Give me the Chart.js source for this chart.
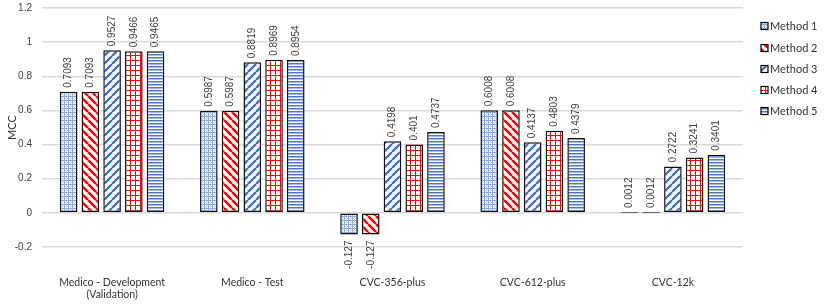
<!DOCTYPE html>
<html><head><meta charset="utf-8">
<script src="https://cdn.jsdelivr.net/npm/chart.js@4.4.0/dist/chart.umd.min.js"></script>
<style>html,body{margin:0;padding:0;background:#fff}#wrap{width:830px;height:305px}</style>
</head><body><div id="wrap"><canvas id="c" width="830" height="305"></canvas></div>
<script>
const categories = [["Medico - Development", "(Validation)"], "Medico - Test", "CVC-356-plus", "CVC-612-plus", "CVC-12k"];
const seriesNames = ["Method 1", "Method 2", "Method 3", "Method 4", "Method 5"];
const method1 = [0.7093, 0.5987, -0.127, 0.6008, 0.0012];
const method2 = [0.7093, 0.5987, -0.127, 0.6008, 0.0012];
const method3 = [0.9527, 0.8819, 0.4198, 0.4137, 0.2722];
const method4 = [0.9466, 0.8969, 0.401, 0.4803, 0.3241];
const method5 = [0.9465, 0.8954, 0.4737, 0.4379, 0.3401];
const yTicks = [-0.2, 0, 0.2, 0.4, 0.6, 0.8, 1, 1.2];

function tile(w, h, draw) {
  const c = document.createElement('canvas'); c.width = w; c.height = h;
  const g = c.getContext('2d'); g.fillStyle = '#fff'; g.fillRect(0, 0, w, h); draw(g, w, h);
  return document.getElementById('c').getContext('2d').createPattern(c, 'repeat');
}
const BLUE = '#4472C4', RED = '#FF0000';
const patterns = [
  tile(4, 4, (g) => { g.fillStyle = '#8eaadf'; g.fillRect(0,0,4,1); g.fillRect(0,0,1,4); g.fillStyle='#bccdee'; g.fillRect(2,1,1,1); g.fillRect(1,2,1,1); g.fillRect(3,2,1,1); g.fillRect(2,3,1,1); }),
  tile(8, 8, (g) => { g.strokeStyle = RED; g.lineWidth = 2.6; g.beginPath(); for (let k = -8; k <= 16; k += 8) { g.moveTo(k, 0); g.lineTo(k + 8, 8); } g.stroke(); }),
  tile(8, 8, (g) => { g.strokeStyle = BLUE; g.lineWidth = 2.4; g.beginPath(); for (let k = -8; k <= 16; k += 8) { g.moveTo(k, 8); g.lineTo(k + 8, 0); } g.stroke(); }),
  tile(5, 5, (g) => { g.fillStyle = RED; g.fillRect(0, 0, 5, 1); g.fillRect(0, 0, 1, 5); }),
  tile(1, 3, (g) => { g.fillStyle = '#4d78c8'; g.fillRect(0, 0, 1, 1); g.fillStyle = '#a8bde6'; g.fillRect(0, 1, 1, 1); })
];
const allData = [method1, method2, method3, method4, method5];

const labelPlugin = {
  id: 'valLabels',
  afterDatasetsDraw(chart) {
    const ctx = chart.ctx;
    ctx.save();
    ctx.font = '10px "Liberation Sans", Arial, sans-serif';
    ctx.fillStyle = '#404040';
    ctx.textBaseline = 'middle';
    chart.data.datasets.forEach((ds, i) => {
      const meta = chart.getDatasetMeta(i);
      meta.data.forEach((bar, j) => {
        const v = ds.data[j];
        const txt = String(v);
        ctx.save();
        if (v >= 0) {
          ctx.translate(bar.x, Math.min(bar.y, bar.base) - 4);
          ctx.rotate(-Math.PI / 2); ctx.textAlign = 'left';
        } else {
          ctx.translate(bar.x, Math.max(bar.y, bar.base) + 6);
          ctx.rotate(-Math.PI / 2); ctx.textAlign = 'right';
        }
        ctx.fillText(txt, 0, 0);
        ctx.restore();
      });
    });
    // legend
    ctx.font = '11px Lato, "Open Sans", sans-serif';
    ctx.textAlign = 'left';
    const ys = [26, 48, 69, 90, 111];
    seriesNames.forEach((n, i) => {
      const y = ys[i];
      ctx.fillStyle = patterns[i];
      ctx.fillRect(761, y - 3.5, 7, 7);
      ctx.strokeStyle = '#000'; ctx.lineWidth = 1.2;
      ctx.strokeRect(761, y - 3.5, 7, 7);
      ctx.fillStyle = '#333';
      ctx.fillText(n, 770, y + 0.5);
    });
    ctx.restore();
  }
};

new Chart(document.getElementById('c'), {
  type: 'bar',
  data: {
    labels: categories,
    datasets: seriesNames.map((n, i) => ({
      label: n, data: allData[i], backgroundColor: patterns[i],
      borderColor: '#111', borderWidth: 1.5, borderSkipped: false,
      categoryPercentage: 0.775, barPercentage: 0.81
    }))
  },
  options: {
    responsive: false, animation: false,
    layout: { padding: { top: 8, right: 87, left: 0, bottom: 0 } },
    plugins: { legend: { display: false }, tooltip: { enabled: false } },
    scales: {
      x: {
        grid: { display: false, drawTicks: false },
        border: { display: false },
        ticks: { padding: 29, font: { family: 'Lato, "Open Sans", sans-serif', size: 10.5 }, color: '#333', maxRotation: 0, autoSkip: false },
        afterFit(s) { s.height = 58; s.paddingLeft = 0; s.paddingRight = 0; }
      },
      y: {
        min: -0.2, max: 1.2,
        afterBuildTicks(s) { s.ticks = yTicks.map(v => ({ value: v })); },
        grid: { color: '#d9d9d9', lineWidth: 1.5, drawTicks: false },
        border: { display: false },
        ticks: { padding: 10, font: { family: '"Liberation Sans", Arial, sans-serif', size: 10 }, color: '#404040',
          callback: v => String(Number(v.toFixed(1))) },
        title: { display: true, text: 'MCC', font: { family: 'Lato, "Open Sans", sans-serif', size: 11 }, color: '#333', padding: { top: 6, bottom: 0 } },
        afterFit(s) { s.width = 42; s.paddingTop = 0; s.paddingBottom = 0; }
      }
    }
  },
  plugins: [labelPlugin]
});
</script></body></html>
